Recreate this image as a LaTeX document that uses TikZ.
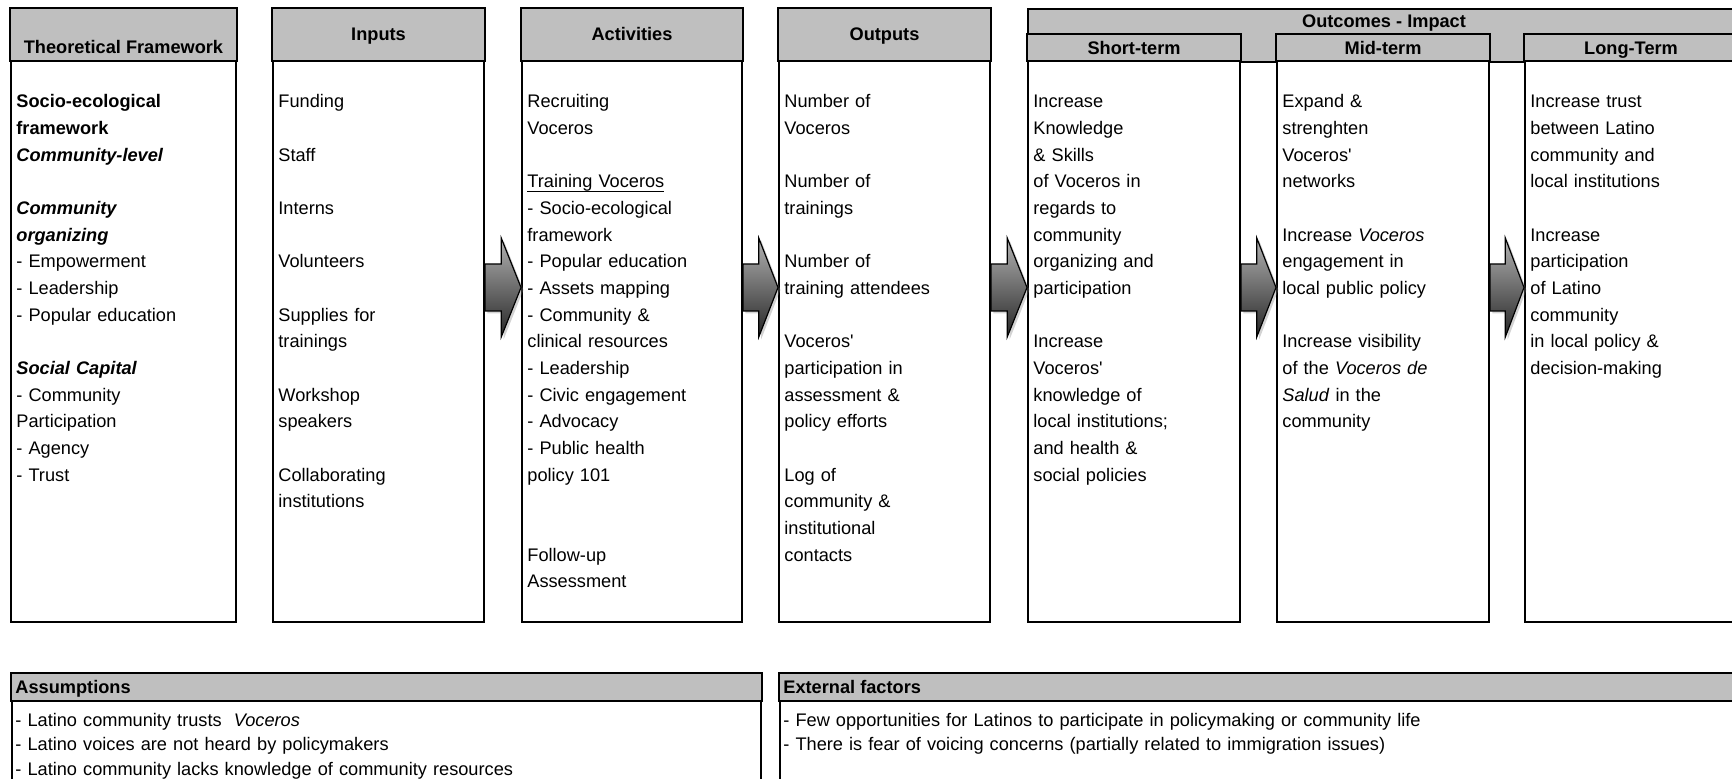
\documentclass[tikz,border=0pt]{standalone}
\usepackage{fontspec}
\setmainfont{Liberation Sans}[Ligatures=TeXOff]
\usetikzlibrary{calc,shadows}
\definecolor{hdrgray}{RGB}{191,191,191}
\newcommand{\ulined}[1]{\setbox0=\hbox{#1}\leavevmode\rlap{\copy0}\rule[-2.2pt]{\wd0}{0.9pt}}
\tikzset{
  colbox/.style={draw, line width=1pt, fill=white, anchor=north west, inner sep=0pt,
    drop shadow={shadow xshift=0.7pt, shadow yshift=-0.7pt, opacity=0.3}},
  hdr/.style={draw, line width=1pt, fill=hdrgray},
  hdrtxt/.style={anchor=base, inner sep=0pt, font=\fontsize{9.1pt}{11pt}\selectfont\bfseries},
  bodytxt/.style={anchor=base west, align=left, text width=104pt, inner sep=0pt,
    font=\fontsize{9.1pt}{13.325pt}\selectfont},
  listtxt/.style={bodytxt, text width=470pt, font=\fontsize{9.1pt}{12.25pt}\selectfont},
  flowarrow/.style={draw, line width=0.6pt, top color=black!30, bottom color=black!85,
    drop shadow={shadow xshift=1.2pt, shadow yshift=-1.2pt, opacity=0.35}},
}
\begin{document}
\begin{tikzpicture}[x=0.5pt,y=-0.5pt]
  \useasboundingbox (0,0) rectangle (1732,779);
  \coordinate (top) at (0,108); % first text line

  % columns
  \node[colbox, minimum width=112.5pt, minimum height=306.5pt] (tf) at (10,8) {};
  \node[colbox, minimum width=105.5pt, minimum height=306.5pt] (inp) at (272,8) {};
  \node[colbox, minimum width=110pt, minimum height=306.5pt] (act) at (521,8) {};
  \node[colbox, minimum width=105.5pt, minimum height=306.5pt] (out) at (778,8) {};
  \foreach \n in {tf,inp,act,out}
    \draw[hdr] (\n.north west) rectangle ($(\n.north east)+(0,53)$); % grey heads

  % outcomes block
  \node[hdr, line width=1pt, anchor=north west, inner sep=0pt, minimum width=356pt, minimum height=26.5pt] (oc) at (1027,8) {};
  \node[colbox, minimum width=106pt, minimum height=293.5pt] (st) at (1027,34) {};
  \node[colbox, minimum width=106pt, minimum height=293.5pt] (mt) at (1276,34) {};
  \node[colbox, minimum width=106pt, minimum height=293.5pt] (lt) at (1524,34) {};
  \foreach \n in {st,mt,lt}
    \draw[hdr] (\n.north west) rectangle ($(\n.north east)+(0,27)$);

  % headings
  \node[hdrtxt] (tfhd) at (tf.north |- 0,54) {Theoretical Framework};
  \node[hdrtxt] (inphd) at (inp.north |- 0,41) {Inputs};
  \node[hdrtxt] (acthd) at (act.north |- 0,41) {Activities};
  \node[hdrtxt] (outhd) at (out.north |- 0,41) {Outputs};
  \node[hdrtxt] (ochd) at (oc.north |- 0,27.5) {Outcomes - Impact};
  \node[hdrtxt] (sthd) at (st.north |- 0,54.5) {Short-term};
  \node[hdrtxt] (mthd) at (mt.north |- 0,54.5) {Mid-term};
  \node[hdrtxt] (lthd) at (lt.north |- 0,54.5) {Long-Term};

  % column texts
  \node[bodytxt] (tftxt) at ([xshift=3pt]tf.west |- top) {\textbf{Socio-ecological}\\ \textbf{framework}\\ \textbf{\textit{Community-level}}\\ \mbox{}\\ \textbf{\textit{Community}}\\ \textbf{\textit{organizing}}\\ - Empowerment\\ - Leadership\\ - Popular education\\ \mbox{}\\ \textbf{\textit{Social Capital}}\\ - Community\\ Participation\\ - Agency\\ - Trust};
  \node[bodytxt] (inptxt) at ([xshift=3pt]inp.west |- top) {Funding\\ \mbox{}\\ Staff\\ \mbox{}\\ Interns\\ \mbox{}\\ Volunteers\\ \mbox{}\\ Supplies for\\ trainings\\ \mbox{}\\ Workshop\\ speakers\\ \mbox{}\\ Collaborating\\ institutions};
  \node[bodytxt] (acttxt) at ([xshift=3pt]act.west |- top) {Recruiting\\ Voceros\\ \mbox{}\\ \ulined{Training Voceros}\\ - Socio-ecological\\ framework\\ - Popular education\\ - Assets mapping\\ - Community \&\\ clinical resources\\ - Leadership\\ - Civic engagement\\ - Advocacy\\ - Public health\\ policy 101\\ \mbox{}\\ \mbox{}\\ Follow-up\\ Assessment};
  \node[bodytxt] (outtxt) at ([xshift=3pt]out.west |- top) {Number of\\ Voceros\\ \mbox{}\\ Number of\\ trainings\\ \mbox{}\\ Number of\\ training attendees\\ \mbox{}\\ Voceros'\\ participation in\\ assessment \&\\ policy efforts\\ \mbox{}\\ Log of\\ community \&\\ institutional\\ contacts};
  \node[bodytxt] (sttxt) at ([xshift=3pt]st.west |- top) {Increase\\ Knowledge\\ \& Skills\\ of Voceros in\\ regards to\\ community\\ organizing and\\ participation\\ \mbox{}\\ Increase\\ Voceros'\\ knowledge of\\ local institutions;\\ and health \&\\ social policies};
  \node[bodytxt] (mttxt) at ([xshift=3pt]mt.west |- top) {Expand \&\\ strenghten\\ Voceros'\\ networks\\ \mbox{}\\ Increase \textit{Voceros}\\ engagement in\\ local public policy\\ \mbox{}\\ Increase visibility\\ of the \textit{Voceros de}\\ \textit{Salud} in the\\ community};
  \node[bodytxt] (lttxt) at ([xshift=3pt]lt.west |- top) {Increase trust\\ between Latino\\ community and\\ local institutions\\ \mbox{}\\ Increase\\ participation\\ of Latino\\ community\\ in local policy \&\\ decision-making};

  % block arrows between columns
  \foreach \a/\b in {inp/act,act/out,out/st,st/mt,mt/lt}
    \draw[flowarrow] let \p1=(\a.east), \p2=(\b.west), \p3=($(\a.east)!0.45!(\b.west)$) in
      (\x1,-132pt) -- (\x3,-132pt) -- (\x3,-119pt) -- (\x2,-143.75pt)
      -- (\x3,-168.5pt) -- (\x3,-155.5pt) -- (\x1,-155.5pt) -- cycle;

  % assumptions and external factors
  \node[colbox, minimum width=374.5pt, minimum height=63.5pt] (asm) at (11,673) {};
  \node[colbox, minimum width=482pt, minimum height=63.5pt] (ext) at (779,673) {};
  \foreach \n in {asm,ext}
    \draw[hdr] (\n.north west) rectangle ($(\n.north east)+(0,28)$);
  \node[hdrtxt, anchor=base west] (asmhd) at ([xshift=2pt]asm.west |- 0,693) {Assumptions};
  \node[hdrtxt, anchor=base west] (exthd) at ([xshift=2pt]ext.west |- 0,693) {External factors};
  \node[listtxt] (asmtxt) at ([xshift=2pt]asm.west |- 0,726) {- Latino community trusts\ \ \textit{Voceros}\\ - Latino voices are not heard by policymakers\\ - Latino community lacks knowledge of community resources};
  \node[listtxt] (exttxt) at ([xshift=2pt]ext.west |- 0,726) {- Few opportunities for Latinos to participate in policymaking or community life\\ - There is fear of voicing concerns (partially related to immigration issues)};
\end{tikzpicture}
\end{document}
